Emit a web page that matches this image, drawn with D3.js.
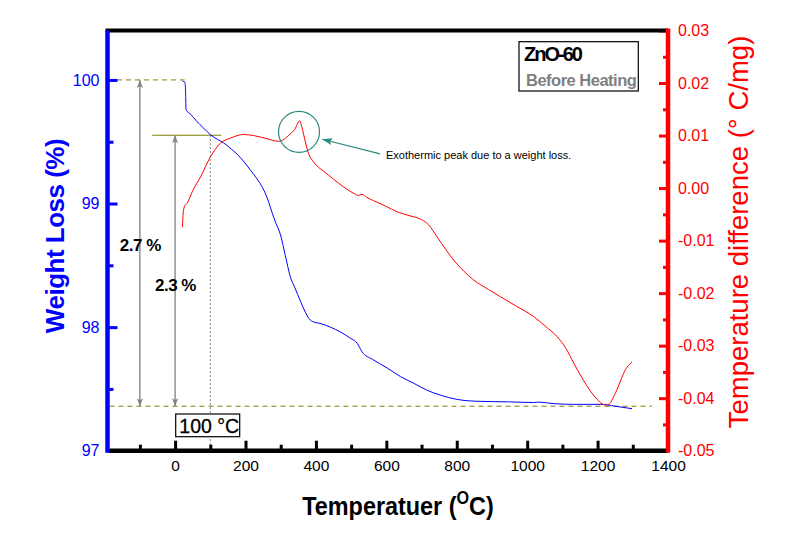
<!DOCTYPE html>
<html><head><meta charset="utf-8">
<script src="https://cdn.jsdelivr.net/npm/d3@7"></script>
<style>body{margin:0;background:#fff}svg{display:block}text{font-family:"Liberation Sans",Arial,sans-serif}</style>
</head><body><svg id="c" width="785" height="539"></svg>
<script>
// ---- data ----
const tempMajor = [0, 200, 400, 600, 800, 1000, 1200, 1400];
const tempMinor = [-100, 100, 300, 500, 700, 900, 1100, 1300];
const weightMajor = [97, 98, 99, 100];
const weightMinor = [97.5, 98.5, 99.5];
const diffMajor = [0.03, 0.02, 0.01, 0.00, -0.01, -0.02, -0.03, -0.04, -0.05];
const diffMinor = [0.025, 0.015, 0.005, -0.005, -0.015, -0.025, -0.035, -0.045];

const tgTemp =   [21, 28, 30, 31, 45, 60, 81, 102, 120, 138, 160, 176, 195, 214, 230, 242, 255, 266, 275, 285, 299, 313, 327, 340, 356, 370, 380, 395, 412, 441, 470, 498, 517, 531, 560, 602, 640, 678, 715, 753, 801, 857, 950, 1019, 1030, 1080, 1132, 1208, 1250, 1298];
const tgWeight = [99.99, 99.98, 99.88, 99.76, 99.72, 99.67, 99.61, 99.553, 99.52, 99.49, 99.44, 99.40, 99.34, 99.27, 99.21, 99.16, 99.09, 99.01, 98.93, 98.85, 98.75, 98.58, 98.41, 98.32, 98.21, 98.12, 98.07, 98.04, 98.03, 98.00, 97.96, 97.91, 97.87, 97.80, 97.74, 97.67, 97.60, 97.545, 97.49, 97.45, 97.415, 97.40, 97.395, 97.39, 97.393, 97.38, 97.375, 97.375, 97.36, 97.34];

const dtaTemp = [21, 22, 24, 28, 34, 50, 72, 100, 128, 157, 195, 223, 261, 294, 310, 322, 340, 354, 360, 370, 379, 393, 412, 422, 450, 479, 510, 521, 531, 545, 564, 600, 630, 668, 700, 720, 744, 770, 791, 820, 848, 890, 924, 970, 1019, 1050, 1085, 1110, 1132, 1160, 1180, 1200, 1213, 1225, 1235, 1245, 1255, 1268, 1279, 1290, 1298];
const dtaDiff = [-0.0074, -0.0058, -0.0042, -0.0033, -0.0029, -0.0005, 0.0021, 0.0059, 0.0085, 0.0095, 0.0102, 0.0100, 0.0094, 0.0089, 0.0093, 0.0100, 0.0112, 0.0128, 0.0116, 0.0088, 0.0066, 0.0050, 0.0037, 0.0032, 0.0017, 0.0002, -0.0011, -0.0014, -0.0012, -0.0018, -0.0024, -0.0035, -0.0045, -0.0053, -0.0060, -0.0070, -0.0093, -0.0118, -0.0137, -0.0158, -0.0175, -0.0193, -0.0207, -0.0225, -0.0245, -0.0262, -0.0283, -0.0305, -0.0333, -0.0366, -0.0387, -0.0403, -0.0411, -0.0413, -0.0410, -0.0398, -0.0384, -0.0362, -0.0346, -0.0336, -0.0331];

// annotation values
const startWeight = 100, finalWeight = 97.36, weightAt100 = 99.553, markTemp = 100;
const lossLabels = ["2.7 %", "2.3 %"];
const legendTitle = "ZnO-60", legendSub = "Before Heating";
const noteText = "Exothermic peak due to a weight loss.";

// ---- layout ----
const L = 107.5, R = 668, T = 30.5, B = 450.7;
const x = d3.scaleLinear().domain([-192, 1400]).range([L, R]);
const yL = d3.scaleLinear().domain([97, 100.4]).range([B, T]);
const yR = d3.scaleLinear().domain([-0.05, 0.03]).range([B, T]);

const svg = d3.select("#c");
const defs = svg.append("defs");
defs.append("marker").attr("id", "ga").attr("viewBox", "-9 -4 10 8")
  .attr("refX", 0).attr("refY", 0).attr("markerWidth", 10).attr("markerHeight", 8)
  .attr("markerUnits", "userSpaceOnUse").attr("orient", "auto-start-reverse")
  .append("path").attr("d", "M0,0 L-8,-3 L-6,0 L-8,3 Z").attr("fill", "#808080");
defs.append("marker").attr("id", "ta").attr("viewBox", "-11 -5 12 10")
  .attr("refX", 0).attr("refY", 0).attr("markerWidth", 12).attr("markerHeight", 10)
  .attr("markerUnits", "userSpaceOnUse").attr("orient", "auto")
  .append("path").attr("d", "M0,0 L-10,-3.5 L-8,0 L-10,3.5 Z").attr("fill", "#2a8a82");

// ---- reference lines ----
const olive = "#808000", gray = "#808080";
svg.append("line").attr("x1", x(-165)).attr("x2", x(27)).attr("y1", yL(startWeight)).attr("y2", yL(startWeight))
  .attr("stroke", olive).attr("stroke-width", 1).attr("stroke-dasharray", "5,4");
svg.append("line").attr("x1", L + 2).attr("x2", x(1354)).attr("y1", yL(finalWeight)).attr("y2", yL(finalWeight))
  .attr("stroke", olive).attr("stroke-width", 1).attr("stroke-dasharray", "5,4");
svg.append("line").attr("x1", x(-65)).attr("x2", x(131)).attr("y1", yL(weightAt100)).attr("y2", yL(weightAt100))
  .attr("stroke", olive).attr("stroke-width", 1.1);
svg.append("line").attr("x1", x(markTemp)).attr("x2", x(markTemp)).attr("y1", yL(weightAt100)).attr("y2", B)
  .attr("stroke", gray).attr("stroke-width", 1).attr("stroke-dasharray", "2,2");
svg.append("line").attr("x1", x(-100)).attr("x2", x(-100)).attr("y1", yL(startWeight)).attr("y2", yL(finalWeight))
  .attr("stroke", gray).attr("stroke-width", 1.3).attr("marker-start", "url(#ga)").attr("marker-end", "url(#ga)");
svg.append("line").attr("x1", x(0)).attr("x2", x(0)).attr("y1", yL(weightAt100)).attr("y2", yL(finalWeight))
  .attr("stroke", gray).attr("stroke-width", 1.3).attr("marker-start", "url(#ga)").attr("marker-end", "url(#ga)");

// ---- curves ----
const tg = tgTemp.map((t, i) => [t, tgWeight[i]]);
const dta = dtaTemp.map((t, i) => [t, dtaDiff[i]]);
svg.append("path").datum(tg).attr("fill", "none").attr("stroke", "#0000ff").attr("stroke-width", 1)
  .attr("d", d3.line().x(d => x(d[0])).y(d => yL(d[1])).curve(d3.curveMonotoneX));
svg.append("path").datum(dta).attr("fill", "none").attr("stroke", "#ff0000").attr("stroke-width", 1)
  .attr("d", d3.line().x(d => x(d[0])).y(d => yR(d[1])).curve(d3.curveMonotoneX));

// ---- annotations ----
const teal = "#2a8a82";
svg.append("circle").attr("cx", x(352)).attr("cy", yR(0.0107)).attr("r", 20.5)
  .attr("fill", "none").attr("stroke", teal).attr("stroke-width", 1.2);
svg.append("line").attr("x1", x(582)).attr("y1", yR(0.0065)).attr("x2", x(418)).attr("y2", yR(0.0093))
  .attr("stroke", teal).attr("stroke-width", 1.2).attr("marker-end", "url(#ta)");
svg.append("text").attr("x", x(599)).attr("y", yR(0.0056)).attr("font-size", 11).attr("fill", "#000").text(noteText);

svg.append("text").attr("x", x(-157)).attr("y", 251).attr("font-size", 17).attr("font-weight", "bold")
  .attr("letter-spacing", -0.5).text(lossLabels[0]);
svg.append("text").attr("x", x(-57)).attr("y", 291).attr("font-size", 17).attr("font-weight", "bold")
  .attr("letter-spacing", -0.5).text(lossLabels[1]);

// 100 °C box
svg.append("rect").attr("x", 175.7).attr("y", 414).attr("width", 64).attr("height", 22.7)
  .attr("fill", "#fff").attr("stroke", "#000").attr("stroke-width", 1.2);
svg.append("text").attr("x", 179.3).attr("y", 433.3).attr("font-size", 19.5).attr("stroke", "#000")
  .attr("stroke-width", 0.3).text(markTemp + " \u00B0C");

// legend box
svg.append("rect").attr("x", 519).attr("y", 41.7).attr("width", 119.3).attr("height", 49.3)
  .attr("fill", "#fff").attr("stroke", "#000").attr("stroke-width", 1.2);
svg.append("text").attr("x", 524).attr("y", 61).attr("font-size", 20).attr("font-weight", "bold")
  .attr("letter-spacing", -2).text(legendTitle);
svg.append("text").attr("x", 526).attr("y", 86).attr("font-size", 16.5).attr("font-weight", "bold")
  .attr("fill", "#808080").attr("letter-spacing", -0.5).text(legendSub);

// ---- axes ----
function styleAxis(g, color, fs, sw) {
  g.select(".domain").remove();
  g.selectAll(".tick line").attr("stroke", color).attr("stroke-width", sw);
  g.selectAll(".tick text").attr("fill", color).attr("font-size", fs)
    .attr("font-family", '"Liberation Sans",Arial,sans-serif');
}
// bottom
const gB1 = svg.append("g").attr("transform", `translate(0,${B})`)
  .call(d3.axisBottom(x).tickValues(tempMinor).tickSize(-6).tickFormat(""));
styleAxis(gB1, "#000", 15.5, 3);
const gB = svg.append("g").attr("transform", `translate(0,${B})`)
  .call(d3.axisBottom(x).tickValues(tempMajor).tickSize(-10).tickPadding(9).tickFormat(d => d));
styleAxis(gB, "#000", 15.5, 3);
// left
const gL1 = svg.append("g").attr("transform", `translate(${L},0)`)
  .call(d3.axisLeft(yL).tickValues(weightMinor).tickSize(-6).tickFormat(""));
styleAxis(gL1, "#0000ff", 16, 3);
const gL = svg.append("g").attr("transform", `translate(${L},0)`)
  .call(d3.axisLeft(yL).tickValues(weightMajor).tickSize(-10).tickPadding(8).tickFormat(d => d));
styleAxis(gL, "#0000ff", 16, 3);
// right
const gR1 = svg.append("g").attr("transform", `translate(${R},0)`)
  .call(d3.axisRight(yR).tickValues(diffMinor).tickSize(-5).tickFormat(""));
styleAxis(gR1, "#ff0000", 16, 3);
const gR = svg.append("g").attr("transform", `translate(${R},0)`)
  .call(d3.axisRight(yR).tickValues(diffMajor).tickSize(-9).tickPadding(10).tickFormat(d => d.toFixed(2)));
styleAxis(gR, "#ff0000", 16, 3);

// axis frame lines
svg.append("line").attr("x1", L - 2).attr("x2", R).attr("y1", T).attr("y2", T).attr("stroke", "#000").attr("stroke-width", 4);
svg.append("line").attr("x1", L).attr("x2", L).attr("y1", T).attr("y2", B + 2).attr("stroke", "#0000ff").attr("stroke-width", 4.5);
svg.append("line").attr("x1", L + 2).attr("x2", R).attr("y1", B).attr("y2", B).attr("stroke", "#000").attr("stroke-width", 4.5);
svg.append("line").attr("x1", R).attr("x2", R).attr("y1", T - 2).attr("y2", B + 2).attr("stroke", "#ff0000").attr("stroke-width", 4.5);

// ---- titles ----
svg.append("text").attr("transform", "translate(63.5,236) rotate(-90)").attr("text-anchor", "middle")
  .attr("font-size", 26).attr("font-weight", "bold").attr("letter-spacing", -0.5).attr("fill", "#0000ff")
  .text("Weight Loss (%)");
svg.append("text").attr("transform", "translate(748,232) rotate(-90)").attr("text-anchor", "middle")
  .attr("font-size", 27.5).attr("fill", "#ff0000")
  .text("Temperature difference (\u00B0 C/mg)");
const xt = svg.append("text").attr("transform", "translate(398,515) scale(0.9,1)").attr("text-anchor", "middle")
  .attr("font-size", 26).attr("font-weight", "bold").attr("fill", "#000");
xt.append("tspan").text("Temperatuer (");
xt.append("tspan").attr("font-size", 18).attr("dy", -11).text("O");
xt.append("tspan").attr("dy", 11).text("C)");
</script></body></html>
